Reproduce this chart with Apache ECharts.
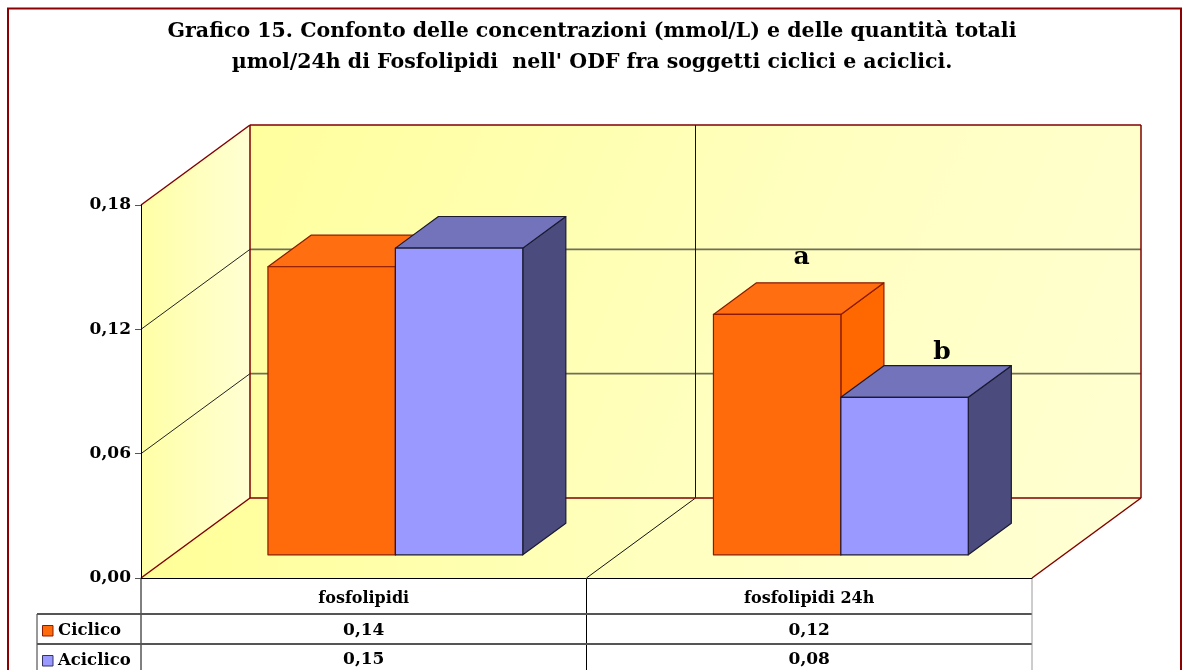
<!DOCTYPE html>
<html>
<head>
<meta charset="utf-8">
<script src="https://cdn.jsdelivr.net/npm/echarts@6/dist/echarts.min.js"></script>
<style>
html, body { margin: 0; padding: 0; background: #ffffff; }
#chart { width: 1184px; height: 670px; }
</style>
</head>
<body>
<div id="chart"></div>
<script>
// Values
const categories = ['fosfolipidi', 'fosfolipidi 24h'];
const seriesNames = ['Ciclico', 'Aciclico'];
const ciclico = [0.139, 0.116];
const aciclico = [0.148, 0.076];
const ciclicoMarks = ['', 'a'];
const aciclicoMarks = ['', 'b'];
const yTicks = [0, 0.06, 0.12, 0.18];
const titleLines = [
  'Grafico 15. Confonto delle concentrazioni (mmol/L) e delle quantità totali',
  'µmol/24h di Fosfolipidi  nell\' ODF fra soggetti ciclici e aciclici.'
];

// 3D look
const SERIF = '"DejaVu Serif", "Liberation Serif", serif';
const DEPTH = [109, -80];        // full floor depth in pixels
const BAR_FRONT = 0.29;          // bars start this far back on the floor
const BAR_DEPTH = 0.395;         // bar thickness as share of floor depth
const BAR_FRAC = 0.286;          // bar width as share of category width
const MARK_SHIFT = { a: [3, -25], b: [16, -13] };

const palette = [
  { front: '#FF6A0A', top: '#FF6F12', side: '#FF6800', edge: '#8B1A00' },
  { front: '#9999FF', top: '#7373BB', side: '#4B4B7D', edge: '#1A1A33' }
];

const fmt = v => v.toFixed(2).replace('.', ',');

function wallsItem(params, api) {
  const cs = params.coordSys;
  const x0 = cs.x, x1 = cs.x + cs.width;
  const yb = api.coord([0, yTicks[0]])[1];
  const yt = api.coord([0, yTicks[yTicks.length - 1]])[1];
  const dx = DEPTH[0], dy = DEPTH[1];
  const red = '#800000';
  const kids = [];
  // left wall
  kids.push({ type: 'polygon', shape: { points: [[x0, yb], [x0, yt], [x0 + dx, yt + dy], [x0 + dx, yb + dy]] },
    style: { fill: new echarts.graphic.LinearGradient(0, 0, 1, 0, [{ offset: 0, color: '#FFFFA6' }, { offset: 1, color: '#FFFFD4' }]) } });
  // back wall
  kids.push({ type: 'polygon', shape: { points: [[x0 + dx, yt + dy], [x1 + dx, yt + dy], [x1 + dx, yb + dy], [x0 + dx, yb + dy]] },
    style: { fill: new echarts.graphic.LinearGradient(0, 0, 1, 1, [{ offset: 0, color: '#FFFF9E' }, { offset: 0.6, color: '#FFFFC2' }, { offset: 1, color: '#FFFFD2' }]) } });
  // floor
  kids.push({ type: 'polygon', shape: { points: [[x0, yb], [x1, yb], [x1 + dx, yb + dy], [x0 + dx, yb + dy]] },
    style: { fill: new echarts.graphic.LinearGradient(0, 0, 1, 0, [{ offset: 0, color: '#FFFF98' }, { offset: 0.5, color: '#FFFFBE' }, { offset: 1, color: '#FFFFD6' }]) } });
  // gridlines
  yTicks.forEach((t, i) => {
    if (i === 0 || i === yTicks.length - 1) return;
    const y = api.coord([0, t])[1];
    kids.push({ type: 'line', shape: { x1: x0, y1: y, x2: x0 + dx, y2: y + dy }, style: { stroke: '#222', lineWidth: 1 } });
    kids.push({ type: 'line', shape: { x1: x0 + dx, y1: y + dy, x2: x1 + dx, y2: y + dy }, style: { stroke: '#6F6F58', lineWidth: 1.6 } });
  });
  // divider between categories on the back wall
  const mid = (api.coord([0, 0])[0] + api.coord([1, 0])[0]) / 2;
  kids.push({ type: 'line', shape: { x1: mid + dx, y1: yb + dy, x2: mid + dx, y2: yt + dy }, style: { stroke: '#111', lineWidth: 1 } });
  kids.push({ type: 'line', shape: { x1: mid, y1: yb, x2: mid + dx, y2: yb + dy }, style: { stroke: '#111', lineWidth: 1 } });
  // outer edges
  const edges = [
    [x0, yt, x0 + dx, yt + dy], [x0 + dx, yt + dy, x1 + dx, yt + dy],
    [x0 + dx, yt + dy, x0 + dx, yb + dy], [x1 + dx, yt + dy, x1 + dx, yb + dy],
    [x0 + dx, yb + dy, x1 + dx, yb + dy], [x0, yb, x0 + dx, yb + dy], [x1, yb, x1 + dx, yb + dy]
  ];
  edges.forEach(e => kids.push({ type: 'line', shape: { x1: e[0], y1: e[1], x2: e[2], y2: e[3] }, style: { stroke: red, lineWidth: 1.5 } }));
  return { type: 'group', children: kids };
}

function barRenderer(si, marks) {
  const c = palette[si];
  return function (params, api) {
    const ci = api.value(0), v = api.value(1);
    const base = api.coord([ci, 0]);
    const top = api.coord([ci, v]);
    const catW = api.size([1, 0])[0];
    const bw = catW * BAR_FRAC;
    const fx = DEPTH[0] * BAR_FRONT, fy = DEPTH[1] * BAR_FRONT;
    const dx = DEPTH[0] * BAR_DEPTH, dy = DEPTH[1] * BAR_DEPTH;
    const left = base[0] + fx + (si === 0 ? -bw : 0);
    const right = left + bw;
    const yb = base[1] + fy, yt = top[1] + fy;
    const st = { stroke: c.edge, lineWidth: 1.2, lineJoin: 'round' };
    const kids = [
      { type: 'polygon', shape: { points: [[right, yt], [right + dx, yt + dy], [right + dx, yb + dy], [right, yb]] }, style: Object.assign({ fill: c.side }, st) },
      { type: 'polygon', shape: { points: [[left, yt], [left + dx, yt + dy], [right + dx, yt + dy], [right, yt]] }, style: Object.assign({ fill: c.top }, st) },
      { type: 'rect', shape: { x: left, y: yt, width: bw, height: yb - yt }, style: Object.assign({ fill: c.front }, st) }
    ];
    const m = marks[params.dataIndex];
    if (m) {
      const sh = MARK_SHIFT[m] || [0, -14];
      kids.push({ type: 'text', x: (left + right) / 2 + dx / 2 + sh[0], y: yt + dy + sh[1],
        style: { text: m, fill: '#000', font: 'bold 25px ' + SERIF, align: 'center', verticalAlign: 'middle' } });
    }
    return { type: 'group', children: kids };
  };
}

// data table under the floor
const ROW_Y = [579, 614, 644, 674];
function tableItem(params, api) {
  const ci = api.value(0);
  const cx = api.coord([ci, 0])[0];
  const w = api.size([1, 0])[0];
  const rx = cx + w / 2;
  const kids = [
    { type: 'text', x: cx, y: (ROW_Y[0] + ROW_Y[1]) / 2 + 2, style: { text: categories[ci], font: 'bold 16px ' + SERIF, fill: '#000', align: 'center', verticalAlign: 'middle' } },
    { type: 'text', x: cx, y: (ROW_Y[1] + ROW_Y[2]) / 2 + 2, style: { text: fmt(ciclico[ci]), font: 'bold 17px ' + SERIF, fill: '#000', align: 'center', verticalAlign: 'middle' } },
    { type: 'text', x: cx, y: (ROW_Y[2] + ROW_Y[3]) / 2 + 1, style: { text: fmt(aciclico[ci]), font: 'bold 17px ' + SERIF, fill: '#000', align: 'center', verticalAlign: 'middle' } },
    { type: 'line', shape: { x1: rx, y1: ROW_Y[0], x2: rx, y2: 700 }, style: { stroke: ci === categories.length - 1 ? '#9A9A9A' : '#000', lineWidth: 1 } }
  ];
  if (ci === 0) {
    const lx = cx - w / 2;
    kids.push({ type: 'line', shape: { x1: lx, y1: ROW_Y[0], x2: lx, y2: 700 }, style: { stroke: '#000', lineWidth: 1 } });
    kids.push({ type: 'line', shape: { x1: 37, y1: ROW_Y[1], x2: 37, y2: 700 }, style: { stroke: '#333', lineWidth: 1 } });
    const right = lx + w * categories.length;
    [ROW_Y[1], ROW_Y[2]].forEach(y => kids.push({ type: 'line', shape: { x1: 37, y1: y, x2: right, y2: y }, style: { stroke: '#555', lineWidth: 1.8 } }));
    // legend keys and names
    seriesNames.forEach((name, k) => {
      const yc = (ROW_Y[k + 1] + ROW_Y[k + 2]) / 2 + 2;
      kids.push({ type: 'rect', shape: { x: 42.5, y: yc - 5.5, width: 10.5, height: 10.5 }, style: { fill: palette[k].front, stroke: k === 0 ? '#8B1A00' : '#333366', lineWidth: 1 } });
      kids.push({ type: 'text', x: 58, y: yc, style: { text: name, font: 'bold 16.5px ' + SERIF, fill: '#000', align: 'left', verticalAlign: 'middle' } });
    });
  }
  return { type: 'group', children: kids };
}

const chart = echarts.init(document.getElementById('chart'), null, { renderer: 'canvas' });
chart.setOption({
  animation: false,
  backgroundColor: '#ffffff',
  title: {
    text: titleLines.join('\n'),
    left: 'center', top: 11,
    textStyle: { fontFamily: SERIF, fontWeight: 'bold', fontSize: 20.5, lineHeight: 31, color: '#000' }
  },
  graphic: [{
    type: 'rect', z: 100, silent: true,
    shape: { x: 8, y: 8.5, width: 1173, height: 700 },
    style: { fill: 'none', stroke: '#8B0000', lineWidth: 2 }
  }],
  grid: { left: 141, top: 205, width: 891, height: 373 },
  xAxis: {
    type: 'category', data: categories, z: 5,
    axisLine: { show: true, lineStyle: { color: '#000', width: 1 } },
    axisTick: { show: false }, axisLabel: { show: false }, splitLine: { show: false }
  },
  yAxis: {
    type: 'value', min: 0, max: 0.18, interval: 0.06, z: 5,
    axisLine: { show: true, lineStyle: { color: '#000', width: 1 } },
    axisTick: { show: true, length: 6, lineStyle: { color: '#555' } },
    axisLabel: { formatter: fmt, margin: 10, color: '#000', fontFamily: SERIF, fontWeight: 'bold', fontSize: 17 },
    splitLine: { show: false }
  },
  series: [
    { type: 'custom', name: 'walls', renderItem: wallsItem, data: [[0, 0]], silent: true, z: 1 },
    { type: 'custom', name: seriesNames[0], renderItem: barRenderer(0, ciclicoMarks), data: ciclico.map((v, i) => [i, v]), z: 2 },
    { type: 'custom', name: seriesNames[1], renderItem: barRenderer(1, aciclicoMarks), data: aciclico.map((v, i) => [i, v]), z: 2 },
    { type: 'custom', name: 'table', renderItem: tableItem, data: categories.map((c, i) => [i, 0]), silent: true, z: 3 }
  ]
});
</script>
</body>
</html>
